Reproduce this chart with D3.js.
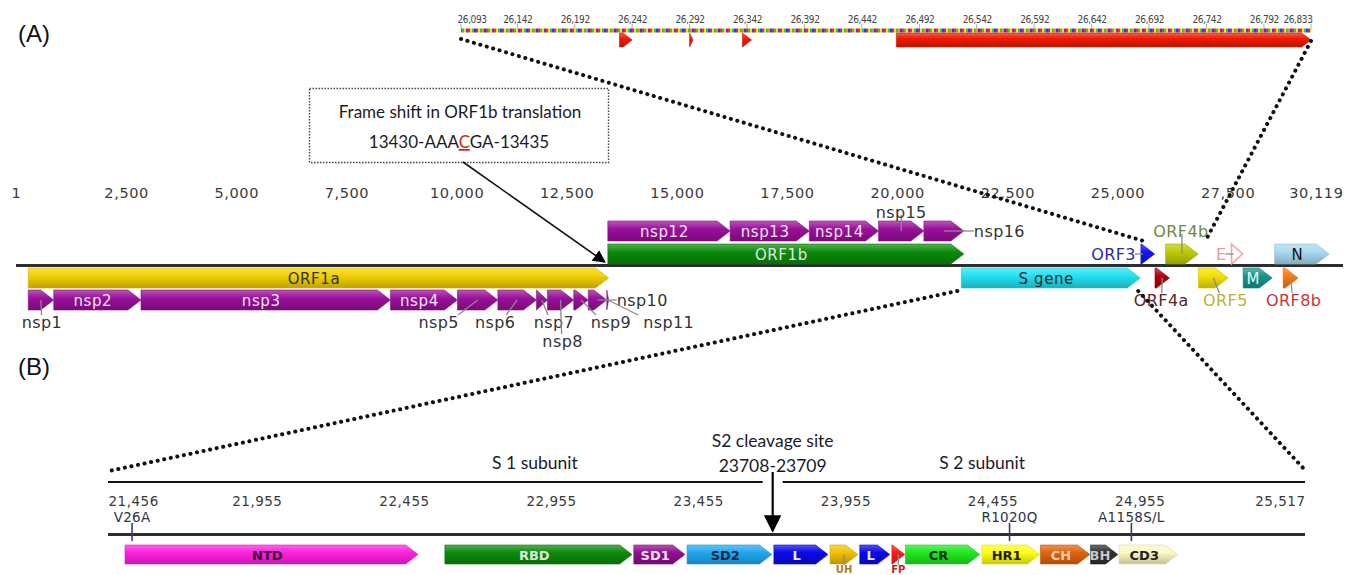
<!DOCTYPE html>
<html>
<head>
<meta charset="utf-8">
<script src="https://cdn.jsdelivr.net/npm/d3@7/dist/d3.min.js"></script>
<style>
  body { margin: 0; background: #fff; }
  svg { display: block; }
  text { font-family: 'DejaVu Sans', sans-serif; }
</style>
</head>
<body>
<svg id="chart" width="1360" height="575"></svg>
<script>
// Panel A: genome map
var genomeTicks = [1, 2500, 5000, 7500, 10000, 12500, 15000, 17500, 20000, 22500, 25000, 27500, 30119];
var orfNames = ['ORF1a', 'ORF1b', 'S gene', 'ORF3', 'ORF4a', 'ORF4b', 'ORF5', 'E', 'M', 'N', 'ORF8b'];
var orfStart = [279, 13433, 21456, 25532, 25852, 26093, 26840, 27590, 27853, 28566, 28762];
var orfEnd   = [13451, 21514, 25517, 25843, 26181, 26833, 27514, 27838, 28512, 29807, 29100];
var nspNames = ['nsp1', 'nsp2', 'nsp3', 'nsp4', 'nsp5', 'nsp6', 'nsp7', 'nsp8', 'nsp9', 'nsp10', 'nsp11',
                'nsp12', 'nsp13', 'nsp14', 'nsp15', 'nsp16'];
var nspStart = [279, 858, 2838, 8499, 10020, 10938, 11814, 12063, 12660, 12990, 13410,
                13433, 16209, 18006, 19578, 20607];
var nspEnd   = [857, 2837, 8498, 10019, 10937, 11813, 12062, 12659, 12989, 13409, 13451,
                16208, 18005, 19577, 20606, 21514];
var frameShift = ['13430-AAA', 'C', 'GA-13435'];

// Panel A inset: ORF4b sequence view
var insetTicks = [26093, 26142, 26192, 26242, 26292, 26342, 26392, 26442, 26492, 26542, 26592, 26642, 26692, 26742, 26792, 26833];
var insetStart = [26231, 26292, 26338, 26472];
var insetEnd   = [26242, 26295, 26346, 26833];

// Panel B: spike gene
var spikeTicks = [21456, 21955, 22455, 22955, 23455, 23955, 24455, 24955, 25517];
var domainNames = ['NTD', 'RBD', 'SD1', 'SD2', 'L', 'UH', 'L', 'FP', 'CR', 'HR1', 'CH', 'BH', 'CD3'];
var domainStart = [21507, 22594, 23236, 23417, 23712, 23903, 24004, 24113, 24159, 24419, 24618, 24788, 24885];
var domainEnd   = [22503, 23230, 23410, 23705, 23896, 23998, 24106, 24157, 24412, 24616, 24786, 24881, 25085];
var mutationNames = ['V26A', 'R1020Q', 'A1158S/L'];
var mutationPos = [21531, 24513, 24927];
var cleavageSite = [23708, 23709];
var subunitNames = ['S 1 subunit', 'S 2 subunit'];
var subunitCenter = [22900, 24420];

// Styles
var orfStyle = {
  'ORF1a':  { fill: '#f2d000', row: 'dn1', label: 'inside', text: '#333' },
  'ORF1b':  { fill: '#0b8c0b', row: 'up1', label: 'inside', text: '#e4e4e4' },
  'S gene': { fill: '#22e2ef', row: 'dn1', label: 'inside', text: '#1a2a3a' },
  'ORF3':   { fill: '#1414f5', row: 'up1', label: 'left',   text: '#2a2aa8' },
  'ORF4a':  { fill: '#b0000e', row: 'dn1', label: 'below',  text: '#5a2626', dx: -1 },
  'ORF4b':  { fill: '#bccc00', row: 'up1', label: 'above',  text: '#6e8a3c', dx: -1 },
  'ORF5':   { fill: '#f4e000', row: 'dn1', label: 'below',  text: '#c2ae34', dx: 12 },
  'E':      { fill: '#f0a4a4', row: 'up1', label: 'left',   text: '#e49a9a', hollow: true },
  'M':      { fill: '#16968e', row: 'dn1', label: 'inside', text: '#e8f4f2' },
  'N':      { fill: '#a8daf2', row: 'up1', label: 'inside', text: '#111' },
  'ORF8b':  { fill: '#ff7812', row: 'dn1', label: 'below',  text: '#c83434', dx: 3 }
};
var nspColor = '#9a109a';
var nspPlace = {
  nsp1: ['below', 1], nsp2: ['inside'], nsp3: ['inside'], nsp4: ['inside'],
  nsp5: ['below', -39], nsp6: ['below', -22], nsp7: ['below', 12], nsp8: ['below2', 2],
  nsp9: ['below', 30], nsp10: ['right', 0], nsp11: ['below', 61],
  nsp12: ['inside'], nsp13: ['inside'], nsp14: ['inside'], nsp15: ['above', 0], nsp16: ['right', 0]
};
var domainStyle = {
  'NTD': { fill: '#ff20e0', text: '#3a0a30' },
  'RBD': { fill: '#0b8a0b', text: '#d8e8d8' },
  'SD1': { fill: '#900e90', text: '#f0e0f0' },
  'SD2': { fill: '#20a8f0', text: '#102a40' },
  'L':   { fill: '#0a0aea', text: '#eeeeff' },
  'UH':  { fill: '#f2c000', text: '#b07a30', below: true },
  'FP':  { fill: '#ff1a1a', text: '#c02828', below: true },
  'CR':  { fill: '#20e820', text: '#103010' },
  'HR1': { fill: '#ffff14', text: '#202000' },
  'CH':  { fill: '#e0640e', text: '#f8d0b0' },
  'BH':  { fill: '#303030', text: '#c8c8c8' },
  'CD3': { fill: '#fbf8c4', text: '#222' }
};

var svg = d3.select('#chart');
var defs = svg.append('defs');

// Glossy vertical shading like the original map.
function shade(color) {
  var id = 'g' + color.replace('#', '');
  if (defs.select('#' + id).empty()) {
    var g = defs.append('linearGradient').attr('id', id)
      .attr('x1', 0).attr('y1', 0).attr('x2', 0).attr('y2', 1);
    g.append('stop').attr('offset', '0%').attr('stop-color', d3.interpolateRgb(color, '#fff')(0.3));
    g.append('stop').attr('offset', '40%').attr('stop-color', color);
    g.append('stop').attr('offset', '100%').attr('stop-color', d3.color(color).darker(0.7));
  }
  return 'url(#' + id + ')';
}

function featurePath(x0, x1, y0, h) {
  var head = Math.min(h * 0.65, x1 - x0);
  var p = d3.path();
  p.moveTo(x0, y0);
  p.lineTo(x1 - head, y0);
  p.lineTo(x1, y0 + h / 2);
  p.lineTo(x1 - head, y0 + h);
  p.lineTo(x0, y0 + h);
  p.closePath();
  return p.toString();
}

function drawFeature(g, x0, x1, y0, h, color, hollow) {
  return g.append('path')
    .attr('d', featurePath(x0, x1, y0, h))
    .attr('fill', hollow ? '#fff' : shade(color))
    .attr('stroke', hollow ? color : d3.color(color).darker(0.4))
    .attr('stroke-width', hollow ? 1.6 : 0.6);
}

function leader(g, x1, y1, x2, y2) {
  g.append('line')
    .attr('x1', x1).attr('y1', y1).attr('x2', x2).attr('y2', y2)
    .attr('stroke', '#8a8a8a').attr('stroke-width', 1.3);
}

defs.append('marker').attr('id', 'head')
  .attr('viewBox', '0 0 10 10').attr('refX', 9).attr('refY', 5)
  .attr('markerWidth', 8).attr('markerHeight', 8).attr('orient', 'auto')
  .append('path').attr('d', 'M0,0L10,5L0,10Z').attr('fill', '#000');

// Coloured nucleotide texture for the inset sequence strip.
var seqPattern = defs.append('pattern').attr('id', 'seq')
  .attr('patternUnits', 'userSpaceOnUse').attr('width', 26).attr('height', 6);
['#ff2a2a', '#ffe000', '#2ad02a', '#2a3aff', '#b02ab0', '#ffe000', '#2ad02a', '#ff8a00', '#2a3aff', '#ff2a2a', '#2ad02a', '#ffe000', '#7a2ad0']
  .forEach(function(c, i) {
    seqPattern.append('rect').attr('x', i * 2).attr('y', 0).attr('width', 2).attr('height', 6).attr('fill', c);
  });

// Panel letters
svg.append('text').attr('x', 18).attr('y', 42).text('(A)')
  .style('font-family', 'Liberation Sans, Arial, sans-serif').style('font-size', '24px').attr('fill', '#111');
svg.append('text').attr('x', 18).attr('y', 375).text('(B)')
  .style('font-family', 'Liberation Sans, Arial, sans-serif').style('font-size', '24px').attr('fill', '#111');

// ---- Panel A genome ----
var x = d3.scaleLinear().domain([1, 30119]).range([16, 1343]);
var rowY = { up2: 221, up1: 244, dn1: 268, dn2: 290 };
var barH = 20;
var gA = svg.append('g');

var axisA = d3.axisTop(x).tickValues(genomeTicks).tickFormat(d3.format(',')).tickSize(0).tickPadding(0);
var axA = gA.append('g').attr('transform', 'translate(0,198)').call(axisA);
axA.select('.domain').remove();
axA.selectAll('text')
  .style('font-size', '14.5px').style('letter-spacing', '0.6px').attr('fill', '#3a3a3a')
  .attr('text-anchor', function(d) { return d === 30119 ? 'end' : 'middle'; });

gA.append('line').attr('x1', x(1)).attr('x2', x(30119)).attr('y1', 265.5).attr('y2', 265.5)
  .attr('stroke', '#2e2e2e').attr('stroke-width', 3);

var labelFont = '16px';

function placeLabel(g, name, x0, x1, y0, place, dx, color) {
  var cx = (x0 + x1) / 2;
  var head = Math.min(barH * 0.65, x1 - x0);
  var t;
  if (place === 'inside') {
    t = g.append('text').attr('x', (x0 + x1 - head) / 2 + 2).attr('y', y0 + 15.5)
      .attr('text-anchor', 'middle').style('font-size', '15px').style('letter-spacing', '0.6px');
  } else if (place === 'below' || place === 'below2') {
    var by = place === 'below' ? y0 + barH + 18 : y0 + barH + 37;
    leader(g, cx, y0 + barH / 2, cx + dx * 0.5, by - 13);
    t = g.append('text').attr('x', cx + dx).attr('y', by).attr('text-anchor', 'middle');
  } else if (place === 'above') {
    var ay = y0 - (name === 'ORF4b' ? 7 : 3);
    leader(g, cx, y0 + barH / 2, cx, ay - 3);
    t = g.append('text').attr('x', cx + dx).attr('y', ay).attr('text-anchor', 'middle');
  } else if (place === 'right') {
    leader(g, cx, y0 + barH / 2, x1 + 10, y0 + barH / 2);
    t = g.append('text').attr('x', x1 + 10).attr('y', y0 + 16).attr('text-anchor', 'start');
  } else if (place === 'left') {
    leader(g, x0 - 6, y0 + barH / 2, x0 + 2, y0 + barH / 2);
    t = g.append('text').attr('x', x0 - 5).attr('y', y0 + 16).attr('text-anchor', 'end');
  }
  if (place !== 'inside') t.style('font-size', labelFont).style('letter-spacing', '0.4px');
  t.attr('fill', color).text(name);
}

// ORFs
var orfG = gA.append('g');
orfNames.forEach(function(name, i) {
  var s = orfStyle[name];
  var x0 = x(orfStart[i]), x1 = x(orfEnd[i]), y0 = rowY[s.row];
  drawFeature(orfG, x0, x1, y0, barH, s.fill, s.hollow);
  placeLabel(orfG, name, x0, x1, y0, s.label, s.dx || 0, s.text);
});

// nsps
var nspG = gA.append('g');
nspNames.forEach(function(name, i) {
  var y0 = i < 11 ? rowY.dn2 : rowY.up2;
  drawFeature(nspG, x(nspStart[i]), x(nspEnd[i]), y0, barH, nspColor);
});
nspNames.forEach(function(name, i) {
  var y0 = i < 11 ? rowY.dn2 : rowY.up2;
  var p = nspPlace[name];
  placeLabel(nspG, name, x(nspStart[i]), x(nspEnd[i]), y0, p[0], p[1] || 0,
    p[0] === 'inside' ? '#f4e4f4' : '#333');
});

// Frame shift note
var note = gA.append('g');
note.append('rect').attr('x', 309.5).attr('y', 88.5).attr('width', 299).attr('height', 74)
  .attr('fill', 'none').attr('stroke', '#444').attr('stroke-width', 1.4).attr('stroke-dasharray', '1.5,1.5');
note.append('text').attr('x', 460).attr('y', 118).attr('text-anchor', 'middle')
  .style('font-family', 'Lato, sans-serif').style('font-size', '17px').attr('fill', '#1a1a2a')
  .text('Frame shift in ORF1b translation');
var fs = note.append('text').attr('x', 459).attr('y', 148).attr('text-anchor', 'middle')
  .style('font-family', 'Lato, sans-serif').style('font-size', '17px').attr('fill', '#1a1a2a');
fs.append('tspan').text(frameShift[0]);
fs.append('tspan').text(frameShift[1]).attr('fill', '#e41a1a').style('text-decoration', 'underline');
fs.append('tspan').text(frameShift[2]);
note.append('line').attr('x1', 463).attr('y1', 162).attr('x2', x(orfStart[1]) - 3).attr('y2', 262)
  .attr('stroke', '#111').attr('stroke-width', 1.6).attr('marker-end', 'url(#head)');

// ---- Inset sequence view ----
var xi = d3.scaleLinear().domain([26093, 26833]).range([461, 1311]);
var gI = svg.append('g');
var axisI = d3.axisTop(xi).tickValues(insetTicks).tickFormat(d3.format(',')).tickSize(0).tickPadding(0);
var axI = gI.append('g').attr('transform', 'translate(0,23)').call(axisI);
axI.select('.domain').remove();
axI.selectAll('text')
  .style('font-family', "'DejaVu Sans Condensed', 'DejaVu Sans', sans-serif").style('font-stretch', 'condensed')
  .style('font-size', '10px').style('letter-spacing', '-0.4px').attr('fill', '#444')
  .attr('text-anchor', function(d, i) { return i === 0 ? 'start' : (i === insetTicks.length - 1 ? 'end' : 'middle'); })
  .attr('dx', function(d, i) { return i === 0 ? -4 : (i === insetTicks.length - 1 ? 1 : 0); });
gI.selectAll('line.tk').data(insetTicks).enter().append('line')
  .attr('x1', function(d) { return xi(d); }).attr('x2', function(d) { return xi(d); })
  .attr('y1', 24).attr('y2', 29).attr('stroke', '#999').attr('stroke-width', 0.8);
gI.append('rect').attr('x', xi(26093)).attr('y', 28.5).attr('width', xi(26833) - xi(26093)).attr('height', 4)
  .attr('fill', 'url(#seq)');
insetStart.forEach(function(s, i) {
  drawFeature(gI, xi(s), xi(insetEnd[i]), 33, 14, '#f01a00');
});

// Zoom guide lines
var dots = svg.append('g').attr('fill', 'none').attr('stroke', '#111').attr('stroke-width', 4)
  .attr('stroke-linecap', 'round').attr('stroke-dasharray', '0.1,6.6');
dots.append('line').attr('x1', xi(26093)).attr('y1', 39).attr('x2', 1147).attr('y2', 242);
dots.append('line').attr('x1', xi(26833)).attr('y1', 41).attr('x2', 1207).attr('y2', 238);

// ---- Panel B spike ----
var xs = d3.scaleLinear().domain([21456, 25517]).range([110, 1305]);
dots.append('line').attr('x1', x(21456) - 4).attr('y1', 291).attr('x2', xs(21456) - 1).attr('y2', 471);
dots.append('line').attr('x1', x(25517) - 2).attr('y1', 291).attr('x2', xs(25517)).attr('y2', 470);

var gB = svg.append('g');
var cx = xs(cleavageSite[0]);
gB.append('line').attr('x1', 108).attr('x2', cx - 10).attr('y1', 482).attr('y2', 482)
  .attr('stroke', '#111').attr('stroke-width', 2);
gB.append('line').attr('x1', cx + 10).attr('x2', 1305).attr('y1', 482).attr('y2', 482)
  .attr('stroke', '#111').attr('stroke-width', 2);
gB.append('line').attr('x1', cx).attr('x2', cx).attr('y1', 472).attr('y2', 531)
  .attr('stroke', '#000').attr('stroke-width', 2.2).attr('marker-end', 'url(#head)');

gB.selectAll('text.sub').data(subunitNames).enter().append('text')
  .attr('x', function(d, i) { return xs(subunitCenter[i]); }).attr('y', 469)
  .attr('text-anchor', 'middle').style('font-family', 'Lato, sans-serif').style('font-size', '17.5px')
  .attr('fill', '#1a1a2a').text(function(d) { return d; });
gB.append('text').attr('x', cx).attr('y', 447).attr('text-anchor', 'middle')
  .style('font-family', 'Lato, sans-serif').style('font-size', '17.5px').attr('fill', '#1a1a2a')
  .text('S2 cleavage site');
gB.append('text').attr('x', cx).attr('y', 472).attr('text-anchor', 'middle')
  .style('font-family', 'Lato, sans-serif').style('font-size', '17.5px').attr('fill', '#1a1a2a')
  .text(cleavageSite.join('-'));

var axisB = d3.axisTop(xs).tickValues(spikeTicks).tickFormat(d3.format(',')).tickSize(0).tickPadding(0);
var axB = gB.append('g').attr('transform', 'translate(0,506)').call(axisB);
axB.select('.domain').remove();
axB.selectAll('text')
  .style('font-size', '13.5px').style('letter-spacing', '0.5px').attr('fill', '#3a3a3a')
  .attr('text-anchor', function(d, i) { return i === 0 ? 'start' : (i === spikeTicks.length - 1 ? 'end' : 'middle'); })
  .attr('dx', function(d, i) { return i === 0 ? -2 : 0; });

gB.append('line').attr('x1', 108).attr('x2', 1305).attr('y1', 534.5).attr('y2', 534.5)
  .attr('stroke', '#2e2e2e').attr('stroke-width', 3);

var dH = 19, dY = 545;
var domG = gB.append('g');
domainNames.forEach(function(name, i) {
  var s = domainStyle[name];
  var x0 = xs(domainStart[i]), x1 = xs(domainEnd[i]);
  drawFeature(domG, x0, x1, dY, dH, s.fill);
  var head = Math.min(dH * 0.65, x1 - x0);
  if (s.below) {
    // these labels sit on the bottom edge, as in the original figure
    leader(domG, (x0 + x1) / 2, dY + dH / 2, (x0 + x1) / 2, 565);
    domG.append('text').attr('x', (x0 + x1) / 2).attr('y', 573).attr('text-anchor', 'middle')
      .style('font-size', '10px').style('font-weight', 'bold').attr('fill', s.text).text(name);
  } else {
    domG.append('text').attr('x', (x0 + x1 - head) / 2 + 2).attr('y', dY + 14.5).attr('text-anchor', 'middle')
      .style('font-size', '13px').style('font-weight', 'bold').attr('fill', s.text).text(name);
  }
});

// Mutation markers
mutationNames.forEach(function(name, i) {
  var mx = xs(mutationPos[i]);
  gB.append('line').attr('x1', mx).attr('x2', mx).attr('y1', 523).attr('y2', 541)
    .attr('stroke', '#3a3a6a').attr('stroke-width', 1.6);
  gB.append('text').attr('x', mx).attr('y', 522).attr('text-anchor', 'middle')
    .style('font-size', '13.5px').style('letter-spacing', '0.3px').attr('fill', '#2e3444').text(name);
});
</script>
</body>
</html>
